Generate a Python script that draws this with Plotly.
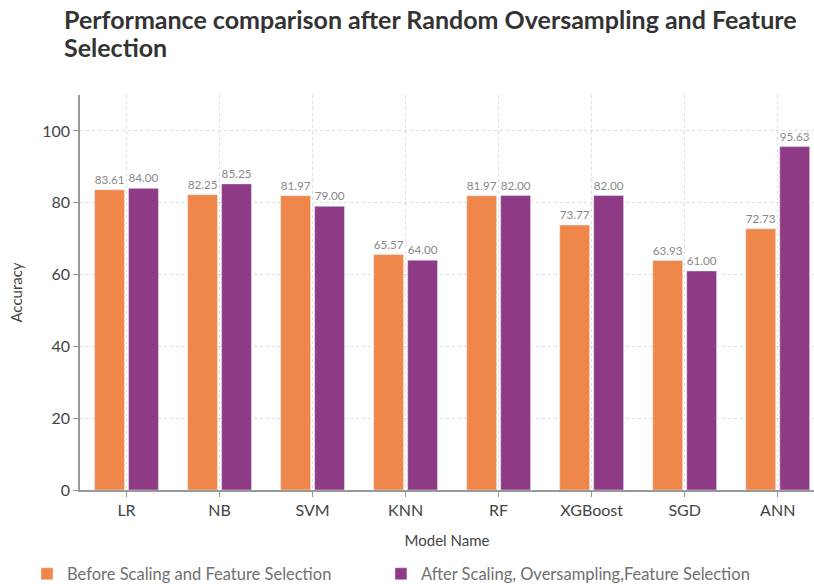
import plotly.graph_objects as go

models = ["LR", "NB", "SVM", "KNN", "RF", "XGBoost", "SGD", "ANN"]
before = [83.61, 82.25, 81.97, 65.57, 81.97, 73.77, 63.93, 72.73]
after = [84.00, 85.25, 79.00, 64.00, 82.00, 82.00, 61.00, 95.63]

name_before = "Before Scaling and Feature Selection"
name_after = "After Scaling, Oversampling,Feature Selection"
title_lines = ["Performance comparison after Random Oversampling and Feature", "Selection"]

orange = "#F0874A"
purple = "#8E3A85"
font = "Lato"

fig = go.Figure()
fig.add_trace(go.Bar(
    x=models, y=before, name=name_before, marker_color=orange, legend="legend",
    showlegend=True,
    text=[f"{v:.2f}" for v in before], textposition="outside",
    textfont=dict(size=12, color="#888888", family=font), cliponaxis=False,
))
fig.add_trace(go.Bar(
    x=models, y=after, name=name_after, marker_color=purple, legend="legend2",
    showlegend=True,
    text=[f"{v:.2f}" for v in after], textposition="outside",
    textfont=dict(size=12, color="#888888", family=font), cliponaxis=False,
))

# two-line bold title, each line placed on its own baseline
for line, ytop in zip(title_lines, [1.2355, 1.1654]):
    fig.add_annotation(
        text=f"<b>{line}</b>",
        xref="paper", yref="paper", x=-0.0245, y=ytop,
        xanchor="left", yanchor="top", align="left", showarrow=False,
        font=dict(size=25, color="#333333", family=font),
    )

legend_style = dict(
    orientation="h", xref="container", yref="container",
    xanchor="left", yanchor="middle", y=0.0171,
    font=dict(size=16.5, color="#707070", family=font),
    bgcolor="rgba(0,0,0,0)",
)

fig.update_layout(
    width=814, height=584,
    showlegend=True,
    margin=dict(l=80, r=0, t=95, b=94, autoexpand=False),
    paper_bgcolor="white", plot_bgcolor="white",
    font=dict(family=font, color="#444444", size=15),
    barmode="group", bargap=0.27, bargroupgap=0.12,
    legend=dict(x=0.0332, **legend_style),
    legend2=dict(x=0.468, **legend_style),
    xaxis=dict(
        title=dict(text="Model Name", font=dict(size=15, color="#444444"), standoff=18),
        range=[-0.5, 7.39], automargin=False,
        showline=True, linecolor="#999999", linewidth=1.5,
        ticks="outside", tickcolor="#999999", ticklen=5,
        showgrid=True, gridcolor="#dddddd", griddash="dot", gridwidth=1,
        tickfont=dict(size=16, color="#444444"),
    ),
    yaxis=dict(
        title=dict(text="Accuracy", font=dict(size=15, color="#444444"), standoff=16),
        range=[0, 110], dtick=20, automargin=False,
        showline=True, linecolor="#999999", linewidth=1.5,
        ticks="outside", tickcolor="#999999", ticklen=5,
        showgrid=True, gridcolor="#dddddd", griddash="dot", gridwidth=1,
        zeroline=False,
        tickfont=dict(size=16, color="#444444"),
    ),
)

fig.write_html("out.html")
